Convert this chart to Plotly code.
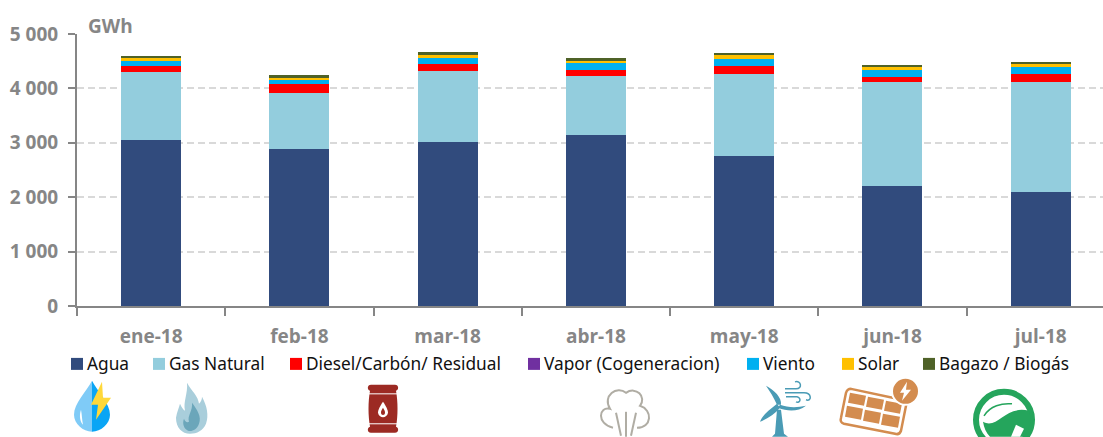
import plotly.graph_objects as go

W, H = 1103, 437
L, R, T, B = 77, 0, 33.5, 131

months = ["ene-18", "feb-18", "mar-18", "abr-18", "may-18", "jun-18", "jul-18"]
agua = [3055, 2880, 3010, 3140, 2755, 2212, 2100]
gas = [1239, 1035, 1315, 1080, 1502, 1898, 2020]
diesel = [116, 175, 116, 123, 147, 98, 143]
vapor = [0, 0, 0, 0, 0, 0, 0]
viento = [86, 62, 115, 116, 128, 128, 122]
solar = [60, 48, 74, 61, 74, 49, 62]
bagazo = [37, 40, 31, 31, 37, 50, 37]

series_names = ["Agua", "Gas Natural", "Diesel/Carbón/ Residual", "Vapor (Cogeneracion)", "Viento", "Solar", "Bagazo / Biogás"]
series_values = [agua, gas, diesel, vapor, viento, solar, bagazo]
series_colors = ["#314B7D", "#93CDDD", "#FF0000", "#7030A0", "#00B0F0", "#FFC000", "#4F6228"]
legend_x = [71, 153, 290, 528, 747, 842, 923]

y_ticks = [0, 1000, 2000, 3000, 4000, 5000]
y_labels = ["0", "1 000", "2 000", "3 000", "4 000", "5 000"]

GREY = "#868686"
FONT = "Open Sans"


def px(x):
    return (x - L) / (W - L - R)


def py(y):
    return (H - B - y) / (H - T - B)


def path(points):
    """Build an SVG path in paper coordinates from pixel commands."""
    out = []
    for p in points:
        if isinstance(p, str):
            out.append(p)
        else:
            out.append(f"{px(p[0]):.5f},{py(p[1]):.5f}")
    return " ".join(out)


def shape(points, fill=None, line=None, width=0):
    return dict(type="path", xref="paper", yref="paper", path=path(points),
                fillcolor=fill if fill else "rgba(0,0,0,0)",
                line=dict(color=line if line else "rgba(0,0,0,0)", width=width), layer="above")


fig = go.Figure()
for name, vals, color in zip(series_names, series_values, series_colors):
    fig.add_bar(x=months, y=vals, name=name, marker=dict(color=color, line=dict(width=0)), showlegend=False)

shapes = []
annotations = [dict(text="<b>GWh</b>", xref="paper", yref="paper", x=px(86), y=py(25), xanchor="left", yanchor="middle",
                    showarrow=False, font=dict(family=FONT, size=19, color=GREY))]
for name, color, x0 in zip(series_names, series_colors, legend_x):
    shapes.append(dict(type="rect", xref="paper", yref="paper", x0=px(x0), x1=px(x0 + 12), y0=py(370), y1=py(358),
                       fillcolor=color, line=dict(width=0)))
    annotations.append(dict(text=name, xref="paper", yref="paper", x=px(x0 + 14), y=py(363.5), xanchor="left", yanchor="middle",
                            showarrow=False, font=dict(family="Noto Sans", size=17.3, color="#111111")))

# Water drop with bolt
shapes.append(shape(["M", (92, 381), "C", (86, 392), (74, 404), (74, 415), "C", (74, 424), (83, 432), (92, 432), "Z"], fill="#7FCBF7"))
shapes.append(shape(["M", (92, 381), "C", (98, 392), (110, 404), (110, 415), "C", (110, 424), (101, 432), (92, 432), "Z"], fill="#0AA5F5"))
shapes.append(shape(["M", (81, 410), "C", (79, 416), (80, 422), (83, 425), "C", (82, 420), (82, 415), (81, 410), "Z"], fill="#FFFFFF"))
shapes.append(shape(["M", (102, 382), "L", (91, 405), "L", (98, 405), "L", (96, 420), "L", (111, 398), "L", (103, 398), "Z"], fill="#FFD83A"))
# Flame
shapes.append(shape(["M", (187, 383), "C", (192, 392), (198, 396), (199, 404), "C", (201, 402), (202, 400), (202, 397),
                     "C", (207, 406), (209, 416), (206, 424), "C", (203, 431), (197, 434), (190, 434),
                     "C", (182, 434), (176, 428), (176, 418), "C", (177, 412), (179, 408), (180, 404),
                     "C", (182, 408), (183, 410), (185, 411), "C", (183, 402), (188, 394), (187, 383), "Z"], fill="#A9CEDB"))
shapes.append(shape(["M", (192, 403), "C", (197, 410), (202, 417), (199, 424), "C", (197, 430), (192, 432), (188, 431),
                     "C", (184, 429), (182, 424), (184, 419), "C", (185, 422), (187, 423), (189, 422),
                     "C", (187, 416), (193, 411), (192, 403), "Z"], fill="#6BA6BA"))
# Barrel
shapes.append(shape(["M", (371, 385), "L", (395, 385), "C", (399, 385), (399, 390), (396, 391), "C", (398, 402), (398, 416), (396, 427),
                     "C", (399, 428), (399, 433), (395, 433), "L", (371, 433), "C", (367, 433), (367, 428), (370, 427),
                     "C", (368, 416), (368, 402), (370, 391), "C", (367, 390), (367, 385), (371, 385), "Z"], fill="#9C2A23"))
shapes.append(shape(["M", (369, 394), "L", (397, 394)], line="#FFFFFF", width=1))
shapes.append(shape(["M", (369, 424), "L", (397, 424)], line="#FFFFFF", width=1))
shapes.append(shape(["M", (383, 402), "C", (379, 408), (378, 411), (378, 413), "C", (379, 419), (387, 419), (388, 413),
                     "C", (388, 411), (387, 408), (383, 402), "Z"], fill="#FFFFFF"))
shapes.append(shape(["M", (383, 408), "C", (381, 411), (381, 412), (381, 413), "C", (381, 416), (385, 416), (385, 413),
                     "C", (385, 412), (385, 411), (383, 408), "Z"], fill="#9C2A23"))
# Steam cloud
shapes.append(shape(["M", (613, 428), "C", (596, 424), (599, 406), (610, 409), "C", (602, 396), (617, 385), (626, 393),
                     "C", (636, 386), (647, 397), (640, 406), "C", (653, 410), (652, 428), (637, 428)], line="#B0ADA4", width=2))
shapes.append(shape(["M", (616, 413), "L", (621, 436)], line="#B0ADA4", width=2))
shapes.append(shape(["M", (626, 412), "L", (626, 437)], line="#B0ADA4", width=2))
shapes.append(shape(["M", (636, 413), "L", (631, 436)], line="#B0ADA4", width=2))
# Wind turbine
shapes.append(shape(["M", (777, 410), "L", (781, 410), "L", (784, 434), "L", (788, 437), "L", (772, 437), "L", (775, 434), "Z"], fill="#4A9BB5"))
shapes.append(shape(["M", (777, 405), "C", (774, 398), (770, 392), (766, 386), "C", (774, 390), (782, 398), (781, 405), "Z"], fill="#4A9BB5"))
shapes.append(shape(["M", (777, 404), "C", (770, 410), (763, 414), (760, 422), "C", (768, 419), (775, 414), (780, 408), "Z"], fill="#4A9BB5"))
shapes.append(shape(["M", (780, 405), "C", (788, 408), (797, 408), (806, 406), "C", (798, 412), (788, 412), (778, 408), "Z"], fill="#4A9BB5"))
shapes.append(shape(["M", (785, 389), "L", (796, 389), "C", (803, 389), (801, 380), (795, 382)], line="#4A9BB5", width=1.5))
shapes.append(shape(["M", (785, 393), "L", (804, 393), "C", (812, 393), (812, 402), (806, 400)], line="#4A9BB5", width=1.5))
shapes.append(shape(["M", (786, 397), "L", (797, 397), "C", (802, 398), (800, 404), (796, 402)], line="#4A9BB5", width=1.5))
# Solar panel
shapes.append(shape(["M", (851, 389), "L", (902, 400), "C", (906, 401), (907, 403), (906, 406), "L", (901, 431), "C", (900, 434), (898, 435), (895, 434),
                     "L", (844, 424), "C", (841, 423), (840, 421), (841, 418), "L", (846, 393), "C", (847, 390), (848, 389), (851, 389), "Z"],
                    fill="#FFFFFF", line="#D38C4F", width=2.5))
for cell in [[(850, 393), (866, 396), (864, 406), (848, 403)], [(868, 397), (884, 400), (882, 410), (866, 407)],
             [(886, 401), (902, 404), (900, 414), (884, 411)], [(847, 406), (863, 409), (861, 420), (845, 417)],
             [(865, 410), (881, 413), (879, 424), (863, 421)], [(883, 414), (900, 417), (898, 428), (881, 425)]]:
    shapes.append(shape(["M", cell[0], "L", cell[1], "L", cell[2], "L", cell[3], "Z"], fill="#D38C4F"))
shapes.append(dict(type="circle", xref="paper", yref="paper", x0=px(892), x1=px(919), y0=py(405), y1=py(378),
                   fillcolor="#D38C4F", line=dict(color="#FFFFFF", width=2), layer="above"))
shapes.append(shape(["M", (907, 382), "L", (900, 393), "L", (904, 393), "L", (902, 401), "L", (911, 390), "L", (906, 390), "Z"], fill="#FFFFFF"))
# Green circle
shapes.append(dict(type="circle", xref="paper", yref="paper", x0=px(976), x1=px(1032), y0=py(448), y1=py(392),
                   fillcolor="#FFFFFF", line=dict(color="#25A55C", width=6), layer="above"))
shapes.append(shape(["M", (983, 422), "C", (998, 430), (1005, 405), (1029, 411), "C", (1032, 420), (1030, 430), (1024, 437),
                     "L", (990, 437), "C", (986, 433), (984, 428), (983, 422), "Z"], fill="#25A55C"))
shapes.append(shape(["M", (984, 416), "C", (990, 406), (1002, 403), (1012, 404)], line="#25A55C", width=1.5))
shapes.append(shape(["M", (1011, 437), "L", (1016, 425), "L", (1024, 429), "L", (1020, 437), "Z"], fill="#FFFFFF"))

fig.update_layout(
    width=W, height=H, autosize=False,
    margin=dict(l=L, r=R, t=T, b=B),
    barmode="stack", bargap=0.595,
    plot_bgcolor="white", paper_bgcolor="white",
    shapes=shapes, annotations=annotations,
    font=dict(family=FONT, color=GREY),
    xaxis=dict(type="category", range=[-0.5, 6.42], tickson="boundaries", ticks="outside", ticklen=8, tickwidth=1.5,
               tickcolor=GREY, showline=True, linecolor=GREY, linewidth=2, showgrid=False,
               tickfont=dict(family=FONT, size=19, color=GREY, weight="bold"), ticklabelstandoff=12),
    yaxis=dict(range=[0, 5000], tickvals=y_ticks, ticktext=y_labels, ticks="outside", ticklen=7, tickwidth=1.5,
               tickcolor=GREY, showline=True, linecolor=GREY, linewidth=2, showgrid=True, griddash="7px,4px",
               gridcolor="#D9D9D9", gridwidth=1.5, zeroline=False,
               tickfont=dict(family=FONT, size=19, color=GREY, weight="bold"), ticklabelstandoff=6),
)
fig.write_html("out.html", config=dict(displayModeBar=False),
               post_script="document.body.style.margin='0';document.documentElement.style.overflow='hidden';")
